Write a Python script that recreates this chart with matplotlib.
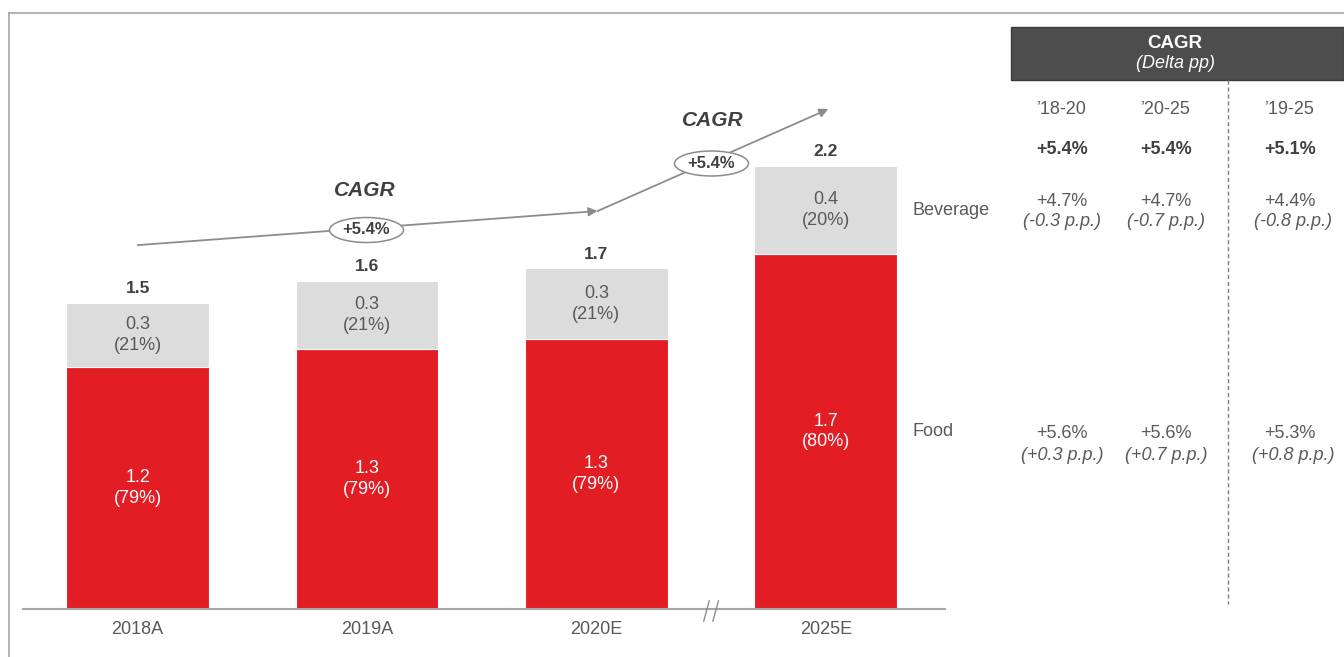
import matplotlib
matplotlib.use("Agg")
import matplotlib.pyplot as plt
from matplotlib.patches import Ellipse, Rectangle
from matplotlib.lines import Line2D

plt.rcParams['font.family'] = ['Liberation Sans', 'DejaVu Sans']

# ---------------- data ----------------
years = ['2018A', '2019A', '2020E', '2025E']
food = [1.20, 1.29, 1.34, 1.76]
beverage = [0.32, 0.34, 0.35, 0.44]
total_labels = ['1.5', '1.6', '1.7', '2.2']
food_labels = ['1.2\n(79%)', '1.3\n(79%)', '1.3\n(79%)', '1.7\n(80%)']
bev_labels = ['0.3\n(21%)', '0.3\n(21%)', '0.3\n(21%)', '0.4\n(20%)']
cagr_arrow_labels = ['+5.4%', '+5.4%']

periods = ['\u201918-20', '\u201920-25', '\u201919-25']
total_cagr = ['+5.4%', '+5.4%', '+5.1%']
bev_cagr = ['+4.7%', '+4.7%', '+4.4%']
bev_delta = ['(-0.3 p.p.)', '(-0.7 p.p.)', '(-0.8 p.p.)']
food_cagr = ['+5.6%', '+5.6%', '+5.3%']
food_delta = ['(+0.3 p.p.)', '(+0.7 p.p.)', '(+0.8 p.p.)']

# ---------------- style ----------------
RED = '#E31D24'
LGRAY = '#DCDCDC'
TXT = '#595959'
DARK = '#404040'
LINE = '#A6A6A6'
ARROW = '#8C8C8C'

W, H = 1344, 657
fig = plt.figure(figsize=(W / 100, H / 100), dpi=100)
fig.patch.set_facecolor('white')


def P(x, y):
    return (x / W, 1 - y / H)


# frame lines (top and left)
fig.add_artist(Line2D([9 / W, 1], [1 - 13 / H, 1 - 13 / H], transform=fig.transFigure, color=LINE, lw=1.2))
fig.add_artist(Line2D([9 / W, 9 / W], [0, 1 - 13 / H], transform=fig.transFigure, color=LINE, lw=1.2))

# main axes
ax = fig.add_axes([23 / W, (H - 609) / H, (945 - 23) / W, (609 - 13) / H])
ax.set_xlim(-0.5, 3.52)
ax.set_ylim(0, 2.958)
ax.patch.set_alpha(0)
for s in ['top', 'right', 'left']:
    ax.spines[s].set_visible(False)
ax.spines['bottom'].set_color(LINE)
ax.spines['bottom'].set_linewidth(1.5)
ax.set_yticks([])

x = list(range(len(years)))
bw = 0.623
ax.bar(x, food, width=bw, color=RED, edgecolor='white', linewidth=0.8, zorder=2)
ax.bar(x, beverage, width=bw, bottom=food, color=LGRAY, edgecolor='white', linewidth=0.8, zorder=2)

ax.set_xticks(x)
ax.set_xticklabels(years, fontsize=13, color=TXT)
ax.tick_params(axis='x', length=0, pad=9)

for i in x:
    ax.text(i, food[i] / 2, food_labels[i], ha='center', va='center', color='white',
            fontsize=13, linespacing=1.27, zorder=3)
    ax.text(i, food[i] + beverage[i] / 2, bev_labels[i], ha='center', va='center', color=TXT,
            fontsize=13, linespacing=1.27, zorder=3)
    ax.annotate(total_labels[i], (i, food[i] + beverage[i]), xytext=(0, 10),
                textcoords='offset points', ha='center', va='center',
                fontsize=12.5, fontweight='bold', color=DARK)

# segment labels at right
last = len(years) - 1
ax.text(3.377, food[last] + beverage[last] / 2, 'Beverage', ha='left', va='center', fontsize=13, color=TXT)
ax.text(3.377, food[last] / 2, 'Food', ha='left', va='center', fontsize=13, color=TXT)

# axis break marks
for dx in (-0.02, 0.02):
    ax.add_line(Line2D([2.5 + dx - 0.012, 2.5 + dx + 0.012], [-0.06, 0.04], color=ARROW, lw=1,
                       clip_on=False, zorder=5))

# CAGR arrows
p0 = (0.0, 1.806)
p1 = (2.005, 1.975)
p2 = (3.011, 2.481)
ap = dict(arrowstyle='-|>', color=ARROW, lw=1.3, mutation_scale=13, shrinkA=0, shrinkB=0)
ax.annotate('', xy=p1, xytext=p0, arrowprops=ap)
ax.annotate('', xy=p2, xytext=p1, arrowprops=ap)

for (cx, cy), (tx, ty), lbl in [((366.5, 230), (365, 191), cagr_arrow_labels[0]),
                                ((711.5, 163.5), (713, 120), cagr_arrow_labels[1])]:
    e = Ellipse(P(cx, cy), 74 / W, 25 / H, transform=fig.transFigure, facecolor='white',
                edgecolor=ARROW, lw=1.1, zorder=10)
    fig.add_artist(e)
    fig.text(*P(cx, cy), lbl, ha='center', va='center', fontsize=12, fontweight='bold',
             color=DARK, zorder=11)
    fig.text(*P(tx, ty), 'CAGR', ha='center', va='center', fontsize=15, fontweight='bold',
             fontstyle='italic', color=DARK)

# ---------------- CAGR table ----------------
fig.add_artist(Rectangle(P(1011, 80), (W - 1011) / W, 53 / H, transform=fig.transFigure,
                         facecolor='#4D4D4D', edgecolor='#3A3A3A', lw=1))
fig.text(*P(1175, 43.5), 'CAGR', ha='center', va='center', fontsize=13.5, fontweight='bold', color='white')
fig.text(*P(1176, 63), '(Delta pp)', ha='center', va='center', fontsize=13, fontstyle='italic', color='white')

fig.add_artist(Line2D([1228 / W, 1228 / W], [1 - 80 / H, 1 - 604 / H], transform=fig.transFigure,
                      color='#7F7F7F', lw=1, linestyle=(0, (3, 2))))

col_x = [1062, 1166, 1290]
for j, cxp in enumerate(col_x):
    fig.text(*P(cxp, 110), periods[j], ha='center', va='center', fontsize=13, color=TXT)
    fig.text(*P(cxp, 150), total_cagr[j], ha='center', va='center', fontsize=13, fontweight='bold', color=DARK)
    fig.text(*P(cxp, 201), bev_cagr[j], ha='center', va='center', fontsize=13, color=TXT)
    fig.text(*P(cxp + (3 if j == 2 else 0), 222), bev_delta[j], ha='center', va='center', fontsize=13,
             fontstyle='italic', color=TXT)
    fig.text(*P(cxp, 433), food_cagr[j], ha='center', va='center', fontsize=13, color=TXT)
    fig.text(*P(cxp + (3 if j == 2 else 0), 455), food_delta[j], ha='center', va='center', fontsize=13,
             fontstyle='italic', color=TXT)

fig.savefig('out.png', dpi=100, facecolor='white')
